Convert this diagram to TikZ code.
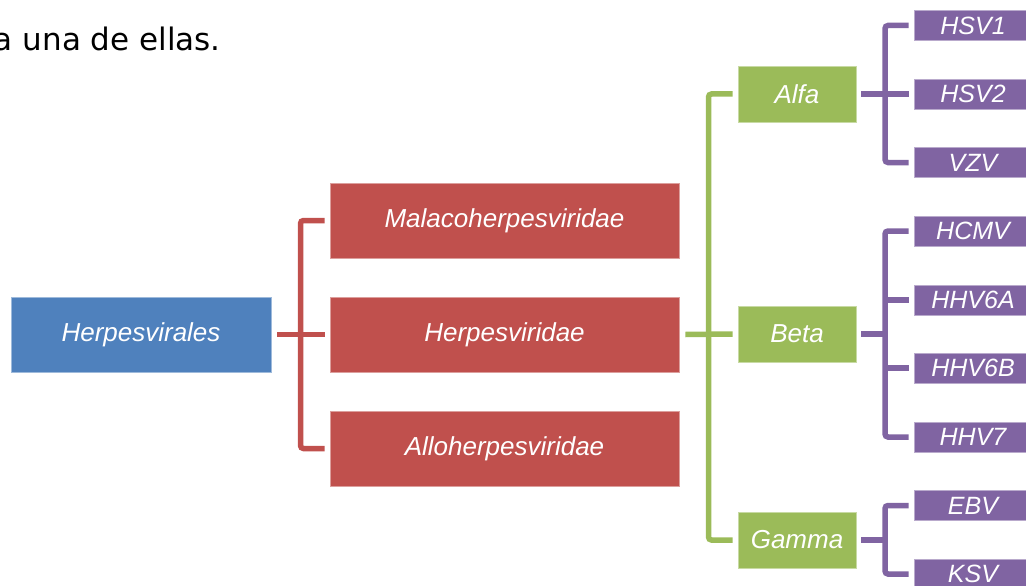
\documentclass[tikz,border=0pt]{standalone}
\usepackage{fontspec}
\setmainfont{Liberation Sans}
\newfontfamily\bodyfont{DejaVu Sans}
\usetikzlibrary{calc}
\definecolor{ordblue}{HTML}{4F81BD}
\definecolor{famred}{HTML}{C0504D}
\definecolor{subgreen}{HTML}{9BBB59}
\definecolor{virpurple}{HTML}{8064A2}
\tikzset{
  box/.style={
    text=white, font=\fontsize{26}{30}\selectfont\itshape,
    inner sep=0pt, line width=0.8pt, minimum height=75pt
  },
  order/.style={box, fill=ordblue, draw=ordblue!55!white, minimum width=260pt},
  family/.style={box, fill=famred, draw=famred!55!white, minimum width=349pt},
  subfamily/.style={box, fill=subgreen, draw=subgreen!55!white, minimum width=118pt, minimum height=56pt},
  virus/.style={box, fill=virpurple, draw=virpurple!55!white, minimum width=118pt, minimum height=30pt,
    font=\fontsize{25}{27}\selectfont\itshape},
  link/.style={line width=5.5pt, rounded corners=3pt},
  redlink/.style={link, draw=famred},
  greenlink/.style={link, draw=subgreen},
  purplelink/.style={link, draw=virpurple},
  bodytext/.style={font=\bodyfont\fontsize{31}{36}\selectfont, inner sep=0pt}
}

\begin{document}
\begin{tikzpicture}[x=1pt, y=-1pt]
  \useasboundingbox (0,0) rectangle (1026,586);
  \node[bodytext, anchor=base east] (intro) at (221,51) {a una de ellas.};

  \node[order] (herpesvirales) at (141,334.5) {Herpesvirales};

  \node[family] (malaco) at (504.5,220.5) {Malacoherpesviridae};
  \node[family] (herpes) at (504.5,334.5) {Herpesviridae};
  \node[family] (allo) at (504.5,448.5) {Alloherpesviridae};

  \node[subfamily] (alfa) at (797,94) {Alfa};
  \node[subfamily] (beta) at (797,334) {Beta};
  \node[subfamily] (gamma) at (797,540) {Gamma};

  \node[virus] (hsv1) at (973,25.5) {HSV1};
  \node[virus] (hsv2) at (973,94) {HSV2};
  \node[virus] (vzv) at (973,162.5) {VZV};
  \node[virus] (hcmv) at (973,231) {HCMV};
  \node[virus] (hhv6a) at (973,300) {HHV6A};
  \node[virus] (hhv6b) at (973,368) {HHV6B};
  \node[virus] (hhv7) at (973,437) {HHV7};
  \node[virus] (ebv) at (973,505.5) {EBV};
  \node[virus] (ksv) at (973,574) {KSV};

  % order -> families
  \coordinate (redsplit) at ($(herpesvirales.east)!0.5!(malaco.west)$);
  \draw[redlink] ([xshift=6pt]herpesvirales.east) -- ([xshift=-5pt]herpes.west);
  \draw[redlink] ([xshift=-5pt]malaco.west) -| (redsplit) |- ([xshift=-5pt]allo.west);

  % family -> subfamilies
  \coordinate (greensplit) at ($(herpes.east)!0.5!(beta.west)$);
  \draw[greenlink] ([xshift=6pt]herpes.east) -- ([xshift=-5pt]beta.west);
  \draw[greenlink] ([xshift=-5pt]alfa.west) -| (greensplit) |- ([xshift=-5pt]gamma.west);

  % subfamilies -> viruses
  \coordinate (alfasplit) at ($(alfa.east)!0.5!(hsv2.west)$);
  \draw[purplelink] ([xshift=5pt]alfa.east) -- ([xshift=-5pt]hsv2.west);
  \draw[purplelink] ([xshift=-5pt]hsv1.west) -| (alfasplit) |- ([xshift=-5pt]vzv.west);

  \coordinate (betasplit) at ($(beta.east)!0.5!(beta.east -| hcmv.west)$);
  \draw[purplelink] ([xshift=5pt]beta.east) -- (betasplit);
  \draw[purplelink] ([xshift=-5pt]hcmv.west) -| (betasplit) |- ([xshift=-5pt]hhv7.west);
  \draw[purplelink] (betasplit |- hhv6a.west) -- ([xshift=-5pt]hhv6a.west);
  \draw[purplelink] (betasplit |- hhv6b.west) -- ([xshift=-5pt]hhv6b.west);

  \coordinate (gammasplit) at ($(gamma.east)!0.5!(gamma.east -| ebv.west)$);
  \draw[purplelink] ([xshift=5pt]gamma.east) -- (gammasplit);
  \draw[purplelink] ([xshift=-5pt]ebv.west) -| (gammasplit) |- ([xshift=-5pt]ksv.west);
\end{tikzpicture}
\end{document}
